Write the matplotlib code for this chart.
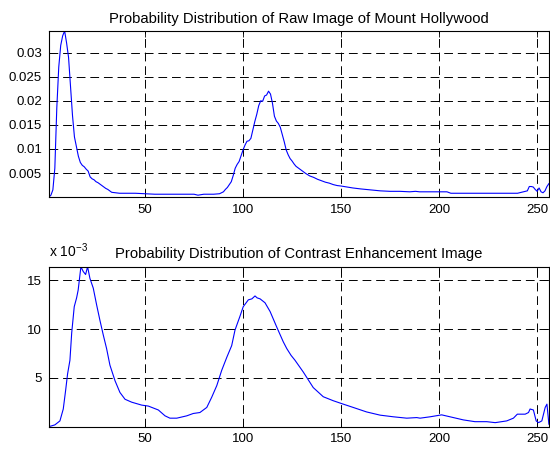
import matplotlib
matplotlib.use('Agg')
import matplotlib.pyplot as plt
from matplotlib.ticker import FuncFormatter

plt.rcParams['font.family'] = ['Liberation Sans', 'DejaVu Sans']

# gray level (1..256) and probability
raw_x = [1, 2, 3, 4, 5, 6, 7, 8, 9, 10, 11, 12, 13, 14, 15, 16, 17, 18, 19, 20,
         21, 22, 23, 24, 25, 26, 27, 28, 29, 30, 31, 32, 33, 35, 37, 40, 45, 50, 55, 60,
         65, 70, 75, 77, 80, 85, 88, 90, 91, 92, 93, 94, 95, 96, 97, 98, 99, 100, 101, 102,
         103, 104, 105, 106, 107, 108, 109, 110, 111, 112, 113, 114, 115, 116, 117, 118, 119, 120, 121, 122,
         123, 124, 125, 126, 127, 128, 130, 132, 134, 136, 138, 140, 142, 144, 146, 148, 150, 153, 156, 160,
         165, 170, 175, 180, 185, 188, 190, 195, 200, 204, 206, 210, 220, 230, 240, 242, 244, 245, 246, 247,
         248, 249, 250, 251, 252, 253, 254, 255, 256]
raw_p = [0.0000, 0.0004, 0.0015, 0.0060, 0.0185, 0.0270, 0.0315, 0.0335, 0.0345, 0.0320,
         0.0290, 0.0230, 0.0170, 0.0125, 0.0105, 0.0085, 0.0072, 0.0066, 0.0063, 0.0058,
         0.0054, 0.0042, 0.0038, 0.0036, 0.0032, 0.0030, 0.0027, 0.0024, 0.0021, 0.0018,
         0.0016, 0.0013, 0.0010, 0.0009, 0.0008, 0.0008, 0.0008, 0.0007, 0.0006, 0.0006,
         0.0006, 0.0006, 0.0006, 0.0004, 0.0006, 0.0006, 0.0007, 0.0011, 0.0016, 0.0020,
         0.0026, 0.0032, 0.0045, 0.0060, 0.0068, 0.0074, 0.0086, 0.0098, 0.0108, 0.0116,
         0.0117, 0.0122, 0.0140, 0.0157, 0.0172, 0.0190, 0.0200, 0.0199, 0.0210, 0.0212,
         0.0220, 0.0214, 0.0195, 0.0168, 0.0158, 0.0153, 0.0145, 0.0130, 0.0115, 0.0098,
         0.0088, 0.0080, 0.0075, 0.0069, 0.0064, 0.0061, 0.0055, 0.0049, 0.0044, 0.0041,
         0.0037, 0.0034, 0.0031, 0.0029, 0.0026, 0.0024, 0.0023, 0.0021, 0.0019, 0.0017,
         0.0015, 0.0013, 0.0012, 0.0012, 0.0011, 0.0012, 0.0011, 0.0011, 0.0011, 0.0011,
         0.0008, 0.0008, 0.0008, 0.0008, 0.0008, 0.0010, 0.0012, 0.0013, 0.0022, 0.0022,
         0.0021, 0.0016, 0.0012, 0.0019, 0.0011, 0.0009, 0.0013, 0.0022, 0.0028]

# gray level and probability after contrast enhancement
enh_x = [1, 2, 4, 6.6, 8.3, 9.5, 10.5, 11.7, 12.6, 13.9, 15.1, 15.9, 17.3, 18.5, 19.7, 20.7,
         21.9, 23.6, 25.3, 27, 28.7, 30.4, 32.1, 34.7, 37.2, 39.8, 43.2, 48.3, 51.7, 56.8,
         60.2, 62.7, 66.2, 71.3, 74.6, 78, 81.5, 84, 86.6, 89.1, 91.7, 94.2, 95.9, 98.4,
         100.1, 102.7, 104.5, 106.1, 107.2, 108.7, 111.2, 113.8, 117.2, 120.5, 122.3, 124.5,
         126.5, 130.7, 135.8, 140.9, 146, 151.1, 156.2, 163, 169.9, 176.7, 183.5, 188.6,
         190.3, 195.4, 201.3, 207.3, 212.4, 218.3, 224.3, 228.6, 234.5, 237.9, 239.9, 243.9,
         245.6, 246.4, 248.1, 249.5, 250.7, 252.4, 254.1, 255, 256]
enh_p = [0.00000, 0.00005, 0.00017, 0.00058, 0.00180, 0.00370, 0.00540, 0.00680, 0.00960,
         0.01230, 0.01320, 0.01400, 0.01640, 0.01590, 0.01560, 0.01640, 0.01520, 0.01420,
         0.01250, 0.01090, 0.00940, 0.00800, 0.00630, 0.00470, 0.00350, 0.00280, 0.00250,
         0.00220, 0.00210, 0.00170, 0.00110, 0.00086, 0.00086, 0.00110, 0.00134, 0.00144,
         0.00196, 0.00300, 0.00420, 0.00576, 0.00710, 0.00830, 0.00990, 0.01130, 0.01230,
         0.01300, 0.01310, 0.01340, 0.01320, 0.01310, 0.01270, 0.01180, 0.01020, 0.00870,
         0.00800, 0.00730, 0.00680, 0.00560, 0.00400, 0.00306, 0.00265, 0.00230, 0.00196,
         0.00150, 0.00117, 0.00100, 0.00086, 0.00092, 0.00086, 0.00100, 0.00120, 0.00092,
         0.00068, 0.00050, 0.00050, 0.00040, 0.00058, 0.00086, 0.00127, 0.00127, 0.00144,
         0.00180, 0.00170, 0.00058, 0.00040, 0.00058, 0.00196, 0.00230, 0.00024]

x_ticks = [50, 100, 150, 200, 250]
raw_yticks = [0.005, 0.01, 0.015, 0.02, 0.025, 0.03]
enh_yticks = [0.005, 0.010, 0.015]

fig = plt.figure(figsize=(5.5, 4.49), dpi=100)
ax1 = fig.add_axes([0.089, 0.561, 0.909, 0.370])
ax2 = fig.add_axes([0.089, 0.050, 0.909, 0.356])


def matlab_style(ax):
    ax.set_xlim(1, 256)
    ax.set_xticks(x_ticks)
    ax.tick_params(direction='in', top=True, right=True, length=4, width=0.6,
                   labelsize=9.5, pad=5)
    ax.grid(True, color='black', linestyle=(0, (9, 5)), linewidth=0.7)
    for s in ax.spines.values():
        s.set_linewidth(0.8)


ax1.plot(raw_x, raw_p, color='#0000ff', linewidth=0.8)
matlab_style(ax1)
ax1.set_ylim(0, 0.0345)
ax1.set_yticks(raw_yticks)
ax1.set_yticklabels(['0.005', '0.01', '0.015', '0.02', '0.025', '0.03'])
ax1.set_title('Probability Distribution of Raw Image of Mount Hollywood', fontsize=10.7, pad=6)

ax2.plot(enh_x, enh_p, color='#0000ff', linewidth=0.8)
matlab_style(ax2)
ax2.set_ylim(0, 0.0164)
ax2.set_yticks(enh_yticks)
ax2.yaxis.set_major_formatter(FuncFormatter(lambda v, pos: '%g' % round(v * 1000, 6)))
ax2.set_title('Probability Distribution of Contrast Enhancement Image', fontsize=10.7, pad=6)
ax2.text(0.0, 1.04, r'x 10$^{\mathregular{-3}}$', transform=ax2.transAxes, fontsize=10,
         ha='left', va='bottom')

fig.savefig('out.png', dpi=100)
